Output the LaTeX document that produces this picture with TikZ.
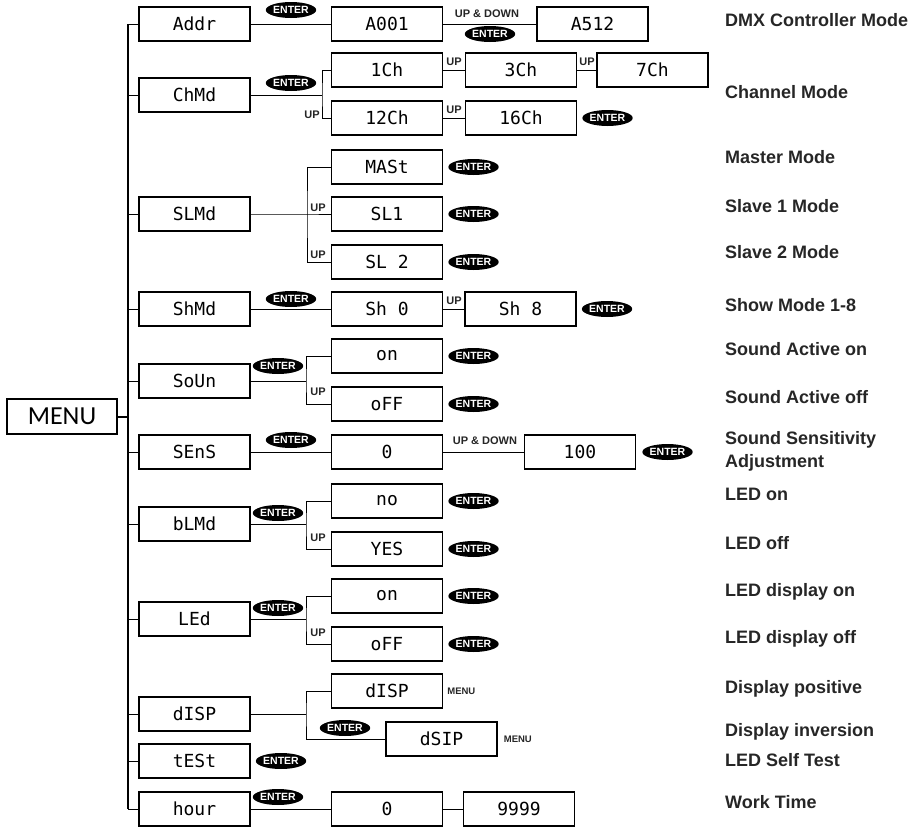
\documentclass[tikz,border=0pt]{standalone}
\usepackage{fontspec}
\setmainfont{Liberation Sans}
\newfontfamily\lcdfont{DejaVu Sans Mono}
\newfontfamily\menufont{Carlito}
\usetikzlibrary{positioning}
\usetikzlibrary{shapes.geometric}

\begin{document}
\begin{tikzpicture}[x=1pt, y=-1pt,
  lcd/.style={draw=black, line width=1.3pt, minimum width=111pt, minimum height=34pt, inner sep=0pt, font=\lcdfont\fontsize{18}{18}\selectfont},
  enterkey/.style={ellipse, fill=black, text=white, minimum width=47pt, minimum height=16pt, inner sep=0pt, font=\bfseries\fontsize{10.5}{10.5}\selectfont},
  hint/.style={inner sep=1pt, text=black!85, font=\bfseries\fontsize{11}{11}\selectfont},
  modelabel/.style={anchor=base west, inner sep=0pt, align=left, text=black!85, font=\bfseries\fontsize{18}{23}\selectfont},
  wire/.style={line width=1pt},
  trunk/.style={line width=2pt}]
  \useasboundingbox (0,0) rectangle (922,827);

  \node[draw, line width=1.3pt, minimum width=110pt, minimum height=35pt, font=\menufont\fontsize{26}{26}\selectfont] (menu) at (62,416.5) {MENU};

  % first level
  \begin{scope}[every node/.style={lcd}]
    \node (addr) at (194.5,24) {Addr};
    \node (chmd) at (194.5,95) {ChMd};
    \node (slmd) at (194.5,214) {SLMd};
    \node (shmd) at (194.5,309) {ShMd};
    \node (soun) at (194.5,381) {SoUn};
    \node (sens) at (194.5,452) {SEnS};
    \node (blmd) at (194.5,524) {bLMd};
    \node (led) at (194.5,619) {LEd};
    \node (disp) at (194.5,714) {dISP};
    \node (test) at (194.5,761) {tESt};
    \node (hour) at (194.5,809) {hour};
  \end{scope}

  % second and third level
  \begin{scope}[every node/.style={lcd}]
    \node (a001) at (387,24) {A001};
    \node (a512) at (592.5,24) {A512};
    \node (ch1) at (387,70) {1Ch};
    \node (ch3) at (521,70) {3Ch};
    \node (ch7) at (652.5,70) {7Ch};
    \node (ch12) at (387,118) {12Ch};
    \node (ch16) at (521,118) {16Ch};
    \node (mast) at (387,167) {MASt};
    \node (sl1) at (387,214) {SL1};
    \node (sl2) at (387,262) {SL 2};
    \node (sh0) at (387,309) {Sh 0};
    \node (sh8) at (520.5,309) {Sh 8};
    \node (son) at (387,356) {on};
    \node (soff) at (387,404) {oFF};
    \node (sens0) at (387,452) {0};
    \node (sens100) at (580,452) {100};
    \node (bno) at (387,501) {no};
    \node (byes) at (387,549) {YES};
    \node (lon) at (387,596) {on};
    \node (loff) at (387,644) {oFF};
    \node (disp1) at (387,691) {dISP};
    \node (dsip) at (441.5,739) {dSIP};
    \node (hour0) at (387,809) {0};
    \node (hour9999) at (519,809) {9999};
  \end{scope}

  % trunk
  \coordinate (ttop) at (128,24);
  \coordinate (tbot) at (128,809);
  \draw[trunk] (ttop) -- (tbot);
  \draw[trunk] (menu) -- (menu -| ttop);
  \foreach \n in {addr,chmd,slmd,shmd,soun,sens,blmd,led,disp,test,hour}
    \draw[wire] (\n) -- (\n -| ttop);

  % forks
  \coordinate (chfork) at (322,95);
  \coordinate (slfork) at (307,214);
  \coordinate (sofork) at (306,381);
  \coordinate (blfork) at (306,524);
  \coordinate (ledfork) at (306,619);
  \coordinate (dispfork) at (306,714);
  \draw[wire] (chmd) -- (chfork);
  \draw[wire] (ch1) -| (chfork) |- (ch12);
  \draw[wire] (slmd) -- (slfork) -- (sl1);
  \draw[wire] (mast) -| (slfork) |- (sl2);
  \draw[wire] (soun) -- (sofork);
  \draw[wire] (son) -| (sofork) |- (soff);
  \draw[wire] (blmd) -- (blfork);
  \draw[wire] (bno) -| (blfork) |- (byes);
  \draw[wire] (led) -- (ledfork);
  \draw[wire] (lon) -| (ledfork) |- (loff);
  \draw[wire] (disp) -- (dispfork);
  \draw[wire] (disp1) -| (dispfork) |- (dsip);

  % straight links
  \draw[wire] (addr) -- (a001);
  \draw[wire] (a001) -- (a512);
  \draw[wire] (ch1) -- (ch3);
  \draw[wire] (ch3) -- (ch7);
  \draw[wire] (ch12) -- (ch16);
  \draw[wire] (shmd) -- (sh0);
  \draw[wire] (sh0) -- (sh8);
  \draw[wire] (sens) -- (sens0);
  \draw[wire] (sens0) -- (sens100);
  \draw[wire] (hour) -- (hour0);
  \draw[wire] (hour0) -- (hour9999);

  % key hints
  \node[hint] (ud1) at (487,14) {UP \& DOWN};
  \node[hint] (ud2) at (485,441) {UP \& DOWN};
  \node[hint] (up1) at (454,62) {UP};
  \node[hint] (up2) at (587,62) {UP};
  \node[hint] (up3) at (454,110) {UP};
  \node[hint] (up4) at (454,301) {UP};
  \node[hint] (up5) at (312,115) {UP};
  \node[hint] (up6) at (318,208) {UP};
  \node[hint] (up7) at (318,255) {UP};
  \node[hint] (up8) at (318,392) {UP};
  \node[hint] (up9) at (318,538) {UP};
  \node[hint] (up10) at (318,633) {UP};
  \node[hint, font=\bfseries\fontsize{9.5}{9.5}\selectfont, anchor=west] (mn1) at ([xshift=3pt]disp1.east) {MENU};
  \node[hint, font=\bfseries\fontsize{9.5}{9.5}\selectfont, anchor=west] (mn2) at ([xshift=5pt]dsip.east) {MENU};

  % enter keys
  \begin{scope}[every node/.style={enterkey}]
    \node (k1) at (291,10) {ENTER};
    \node (k2) at (490,34) {ENTER};
    \node (k3) at (291,83) {ENTER};
    \node (k4) at (291,299) {ENTER};
    \node (k5) at (278,366) {ENTER};
    \node (k6) at (291,440) {ENTER};
    \node (k7) at (278,513) {ENTER};
    \node (k8) at (278,608) {ENTER};
    \node (k9) at (345,728) {ENTER};
    \node (k10) at (278,797) {ENTER};
    \node[right=5pt of ch16] (k11) {ENTER};
    \node[right=5pt of mast] (k12) {ENTER};
    \node[right=5pt of sl1] (k13) {ENTER};
    \node[right=5pt of sl2] (k14) {ENTER};
    \node[right=5pt of sh8] (k15) {ENTER};
    \node[right=5pt of son] (k16) {ENTER};
    \node[right=5pt of soff] (k17) {ENTER};
    \node[right=6pt of sens100] (k18) {ENTER};
    \node[right=5pt of bno] (k19) {ENTER};
    \node[right=5pt of byes] (k20) {ENTER};
    \node[right=5pt of lon] (k21) {ENTER};
    \node[right=5pt of loff] (k22) {ENTER};
    \node[right=5pt of test] (k23) {ENTER};
  \end{scope}

  % mode descriptions
  \begin{scope}[every node/.style={modelabel}]
    \node (m1) at (725,26) {DMX Controller Mode};
    \node (m2) at (725,98) {Channel Mode};
    \node (m3) at (725,163) {Master Mode};
    \node (m4) at (725,212) {Slave 1 Mode};
    \node (m5) at (725,258) {Slave 2 Mode};
    \node (m6) at (725,311) {Show Mode 1-8};
    \node (m7) at (725,355) {Sound Active on};
    \node (m8) at (725,403) {Sound Active off};
    \node (m9) at (725,467) {Sound Sensitivity\\Adjustment};
    \node (m10) at (725,500) {LED on};
    \node (m11) at (725,549) {LED off};
    \node (m12) at (725,596) {LED display on};
    \node (m13) at (725,643) {LED display off};
    \node (m14) at (725,693) {Display positive};
    \node (m15) at (725,736) {Display inversion};
    \node (m16) at (725,766) {LED Self Test};
    \node (m17) at (725,808) {Work Time};
  \end{scope}
\end{tikzpicture}
\end{document}
